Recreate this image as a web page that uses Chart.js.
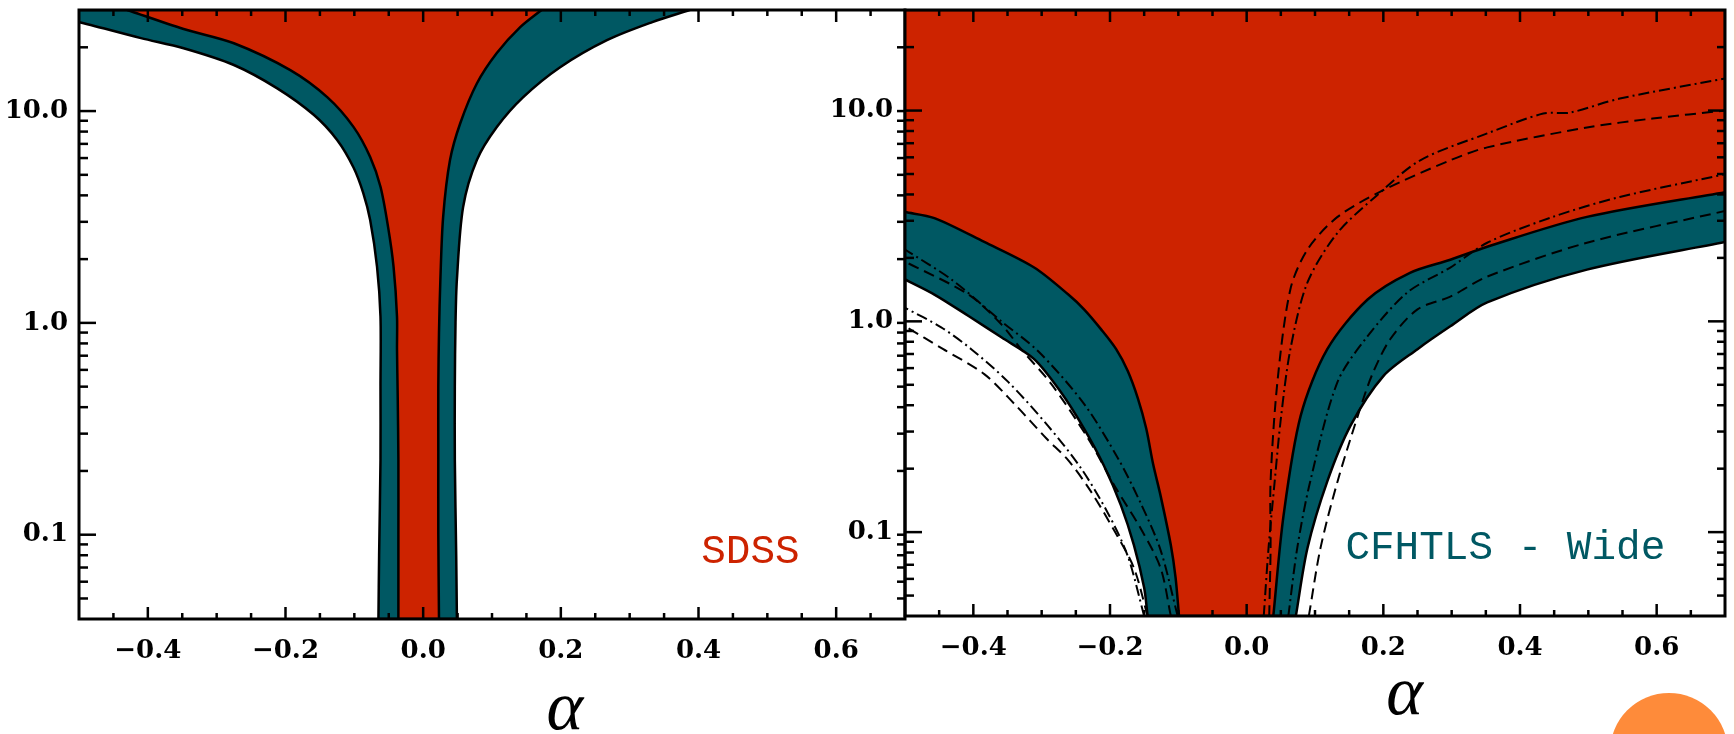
<!DOCTYPE html>
<html>
<head>
<meta charset="utf-8">
<script src="https://cdn.jsdelivr.net/npm/chart.js@4.4.1/dist/chart.umd.min.js"></script>
<style>
  html, body { margin: 0; padding: 0; background: #fff; }
  body { width: 1736px; height: 734px; position: relative; overflow: hidden; }
  #wrapSdss { position: absolute; left: 0; top: 0; width: 930px; height: 734px; }
  #wrapCfht { position: absolute; left: 820px; top: 0; width: 916px; height: 734px; }
  #dot { position: absolute; left: 1610px; top: 693px; width: 118px; height: 118px; border-radius: 50%; background: #fe8b3a; }
  #edge { position: absolute; left: 1734px; top: 0; width: 2px; height: 734px; background: #f5c6bd; }
</style>
</head>
<body>
<div id="wrapSdss"><canvas id="sdss"></canvas></div>
<div id="wrapCfht"><canvas id="cfht"></canvas></div>
<div id="dot"></div>
<div id="edge"></div>
<script>
// axes
const alphaRange = [-0.5, 0.7];
const ratioRange = [0.04, 30];
const xTickValues = [-0.4, -0.2, 0, 0.2, 0.4, 0.6];
const xTickText = ['\u22120.4', '\u22120.2', '0.0', '0.2', '0.4', '0.6'];
const xMinorTicks = [-0.45, -0.35, -0.3, -0.25, -0.15, -0.1, -0.05, 0.05, 0.1, 0.15, 0.25, 0.3, 0.35, 0.45, 0.5, 0.55, 0.65];
const yTickValues = [0.1, 1, 10];
const yTickText = ['0.1', '1.0', '10.0'];
const yMinorTicks = [0.05, 0.06, 0.07, 0.08, 0.09, 0.2, 0.3, 0.4, 0.5, 0.6, 0.7, 0.8, 0.9, 2, 3, 4, 5, 6, 7, 8, 9, 20];

// SDSS contours, [alpha, value], bottom -> top
const sdssInnerLeft = [[-0.036,0.04],[-0.036,0.1],[-0.036,0.226],[-0.037,0.45],[-0.038,0.75],[-0.038,1.07],[-0.043,1.84],[-0.051,2.84],[-0.062,4.39],[-0.077,6.07],[-0.101,8.4],[-0.139,11.6],[-0.193,15.6],[-0.275,20.9],[-0.348,24.4],[-0.43,30]];
const sdssInnerRight = [[0.023,0.04],[0.022,0.1],[0.022,0.25],[0.022,0.5],[0.023,0.9],[0.025,1.6],[0.029,3.16],[0.039,5.87],[0.054,8.78],[0.078,13.5],[0.107,18.8],[0.141,24.9],[0.172,30]];
const sdssOuterLeft = [[-0.065,0.04],[-0.064,0.08],[-0.062,0.226],[-0.062,0.5],[-0.062,1.07],[-0.067,1.84],[-0.077,3.06],[-0.087,4.1],[-0.101,5.4],[-0.125,7.3],[-0.159,9.6],[-0.212,12.8],[-0.275,16.5],[-0.348,19.8],[-0.41,22.1],[-0.483,25.5],[-0.5,26.3]];
const sdssOuterRight = [[0.049,0.04],[0.048,0.08],[0.046,0.226],[0.046,0.5],[0.047,1.0],[0.049,1.6],[0.058,3.52],[0.078,5.87],[0.107,8.4],[0.145,11.6],[0.199,16.1],[0.267,21.6],[0.333,26.3],[0.387,30]];

// CFHTLS-Wide contours
const cfhtInnerLeft = [[-0.099,0.04],[-0.104,0.0607],[-0.111,0.0868],[-0.126,0.149],[-0.137,0.211],[-0.147,0.31],[-0.159,0.429],[-0.174,0.581],[-0.191,0.738],[-0.213,0.916],[-0.238,1.14],[-0.261,1.34],[-0.311,1.8],[-0.384,2.38],[-0.457,3.09],[-0.5,3.3]];
const cfhtInnerRight = [[0.039,0.04],[0.054,0.12],[0.079,0.356],[0.118,0.738],[0.177,1.27],[0.239,1.7],[0.298,1.96],[0.352,2.26],[0.498,3.13],[0.7,4.1]];
const cfhtOuterLeft = [[-0.145,0.04],[-0.15,0.0544],[-0.165,0.0868],[-0.184,0.134],[-0.209,0.207],[-0.238,0.31],[-0.272,0.462],[-0.311,0.662],[-0.359,0.84],[-0.407,1.06],[-0.457,1.34],[-0.5,1.58]];
const cfhtOuterRight = [[0.072,0.04],[0.089,0.084],[0.118,0.174],[0.152,0.32],[0.2,0.55],[0.25,0.738],[0.298,0.947],[0.352,1.23],[0.498,1.76],[0.7,2.38]];

// comparison contours (dashed / dash-dot)
const dashDotA = [[-0.101,0.04],[-0.126,0.0822],[-0.155,0.137],[-0.188,0.223],[-0.238,0.406],[-0.305,0.721],[-0.359,1.0],[-0.432,1.58],[-0.5,2.19]];
const dashedB = [[-0.111,0.04],[-0.126,0.0676],[-0.155,0.104],[-0.191,0.161],[-0.232,0.278],[-0.286,0.505],[-0.33,0.738],[-0.359,0.968],[-0.407,1.34],[-0.5,1.92]];
const dashDotC = [[-0.15,0.04],[-0.174,0.077],[-0.203,0.123],[-0.242,0.2],[-0.291,0.32],[-0.349,0.516],[-0.403,0.738],[-0.447,0.937],[-0.5,1.16]];
const dashedD = [[-0.145,0.04],[-0.165,0.0676],[-0.194,0.102],[-0.228,0.156],[-0.261,0.219],[-0.293,0.278],[-0.34,0.406],[-0.384,0.562],[-0.444,0.738],[-0.5,0.947]];
const dashDotE = [[0.025,0.04],[0.032,0.084],[0.041,0.174],[0.05,0.345],[0.064,0.738],[0.089,1.53],[0.133,2.63],[0.191,3.97],[0.254,5.81],[0.352,7.79],[0.434,9.68],[0.473,9.78],[0.546,11.4],[0.7,14.2]];
const dashedF = [[0.033,0.04],[0.035,0.084],[0.035,0.174],[0.045,0.516],[0.064,1.42],[0.089,2.19],[0.133,3.13],[0.2,4.19],[0.298,5.81],[0.352,6.69],[0.498,8.31],[0.594,9.17],[0.7,10.0]];
const dashDotG = [[0.061,0.04],[0.074,0.084],[0.093,0.174],[0.133,0.516],[0.177,0.85],[0.235,1.37],[0.298,1.8],[0.352,2.36],[0.448,3.13],[0.546,3.89],[0.7,4.99]];
const dashedH = [[0.091,0.04],[0.108,0.084],[0.133,0.174],[0.166,0.385],[0.184,0.562],[0.21,0.822],[0.25,1.14],[0.298,1.31],[0.352,1.63],[0.498,2.36],[0.7,3.34]];

const RED = '#cd2300';
const TEAL = '#005863';
const DASH = [11, 6];
const DASHDOT = [11, 4, 2, 4];

const toXY = p => ({ x: p[0], y: p[1] });

// closed region: left edge walked downwards, right edge upwards, then corners along the frame.
// end points are doubled so the smoothing keeps sharp corners there
function region(left, right, corners, color, order) {
  const down = left.slice().reverse();
  const poly = [];
  [down, right].forEach(c => { poly.push(c[0], ...c, c[c.length - 1]); });
  corners.forEach(c => { poly.push(c, c); });
  return {
    data: poly.map(toXY), backgroundColor: color, borderColor: '#000', borderWidth: 2.5,
    fill: 'shape', tension: 0.3, pointRadius: 0, order: order
  };
}

function contour(arr, dash) {
  return {
    data: arr.map(toXY), borderColor: '#000', borderWidth: 2, borderDash: dash,
    fill: false, tension: 0.3, pointRadius: 0, order: 0
  };
}

function pickLabel(values, texts, v) {
  const i = values.findIndex(t => Math.abs(v - t) < 1e-6 * Math.max(1, Math.abs(t)));
  return i < 0 ? null : texts[i];
}

// frame, inward ticks, panel name and the alpha symbol
function panelDecor(cfg) {
  return {
    id: 'panelDecor',
    afterDraw(chart) {
      const { ctx, chartArea: a, scales: { x, y } } = chart;
      const seg = (x1, y1, x2, y2) => { ctx.beginPath(); ctx.moveTo(x1, y1); ctx.lineTo(x2, y2); ctx.stroke(); };
      ctx.save();
      ctx.setLineDash([]);
      ctx.strokeStyle = '#000';
      ctx.lineWidth = 2.5;
      const xMarks = xTickValues.map(v => [v, 12]).concat(xMinorTicks.map(v => [v, 6]));
      xMarks.forEach(([v, len]) => {
        const px = x.getPixelForValue(v);
        seg(px, a.bottom, px, a.bottom - len);
        seg(px, a.top, px, a.top + len);
      });
      const yMarks = yTickValues.map(v => [v, 17, cfg.rightMajor]).concat(yMinorTicks.map(v => [v, 9, cfg.rightMinor]));
      yMarks.forEach(([v, len, rlen]) => {
        const py = y.getPixelForValue(v);
        seg(a.left, py, a.left + len, py);
        seg(a.right, py, a.right - rlen, py);
      });
      ctx.lineWidth = 3;
      ctx.strokeRect(a.left, a.top, a.right - a.left, a.bottom - a.top);

      ctx.font = '41px "Liberation Mono"';
      ctx.fillStyle = cfg.nameColor;
      ctx.textAlign = 'left';
      ctx.textBaseline = 'alphabetic';
      ctx.fillText(cfg.name, x.getPixelForValue(cfg.namePos[0]), y.getPixelForValue(cfg.namePos[1]));

      ctx.font = 'italic 70px "Liberation Serif"';
      ctx.fillStyle = '#000';
      ctx.textAlign = 'center';
      ctx.fillText('\u03b1', x.getPixelForValue(cfg.alphaAt), cfg.alphaBaseline);
      ctx.restore();
    }
  };
}

const tickFont = { family: 'DejaVu Serif', size: 26, weight: 'bold' };

function makePanel(id, cfg) {
  return new Chart(document.getElementById(id), {
    type: 'line',
    data: { datasets: cfg.datasets },
    options: {
      responsive: true,
      maintainAspectRatio: false,
      animation: false,
      layout: { padding: { top: 10, right: cfg.padRight, left: 0, bottom: 0 } },
      plugins: { legend: { display: false }, tooltip: { enabled: false } },
      scales: {
        x: {
          type: 'linear', min: alphaRange[0], max: alphaRange[1],
          grid: { display: false, drawTicks: false }, border: { display: false },
          afterFit: s => { s.height = cfg.xAxisHeight; s.paddingLeft = 0; s.paddingRight = 0; },
          ticks: {
            stepSize: 0.05, autoSkip: false, maxRotation: 0, minRotation: 0, padding: 17,
            color: '#000', font: tickFont,
            callback: v => pickLabel(xTickValues, xTickText, v)
          }
        },
        y: {
          type: 'logarithmic', min: ratioRange[0], max: ratioRange[1],
          grid: { display: false, drawTicks: false }, border: { display: false },
          afterFit: s => { s.width = cfg.yAxisWidth; s.paddingTop = 0; s.paddingBottom = 0; },
          ticks: {
            autoSkip: false, padding: cfg.yPad, color: '#000', font: tickFont,
            callback: v => pickLabel(yTickValues, yTickText, v)
          }
        }
      }
    },
    plugins: [panelDecor(cfg)]
  });
}

makePanel('sdss', {
  datasets: [
    region(sdssOuterLeft, sdssOuterRight, [[-0.5, 30]], TEAL, 3),
    region(sdssInnerLeft, sdssInnerRight, [], RED, 2)
  ],
  padRight: 25, xAxisHeight: 115, yAxisWidth: 79, yPad: 11,
  rightMajor: 8, rightMinor: 8,
  name: 'SDSS', nameColor: RED, namePos: [0.404, 0.0738],
  alphaAt: 0.206, alphaBaseline: 729
});

makePanel('cfht', {
  datasets: [
    region(cfhtOuterLeft, cfhtOuterRight, [[0.7, 30], [-0.5, 30]], TEAL, 3),
    region(cfhtInnerLeft, cfhtInnerRight, [[0.7, 30], [-0.5, 30]], RED, 2),
    contour(dashDotA, DASHDOT), contour(dashedB, DASH),
    contour(dashDotC, DASHDOT), contour(dashedD, DASH),
    contour(dashDotE, DASHDOT), contour(dashedF, DASH),
    contour(dashDotG, DASHDOT), contour(dashedH, DASH)
  ],
  padRight: 11, xAxisHeight: 118, yAxisWidth: 85, yPad: 12,
  rightMajor: 17, rightMinor: 8,
  name: 'CFHTLS - Wide', nameColor: TEAL, namePos: [0.1445, 0.0746],
  alphaAt: 0.231, alphaBaseline: 714
});
</script>
</body>
</html>
